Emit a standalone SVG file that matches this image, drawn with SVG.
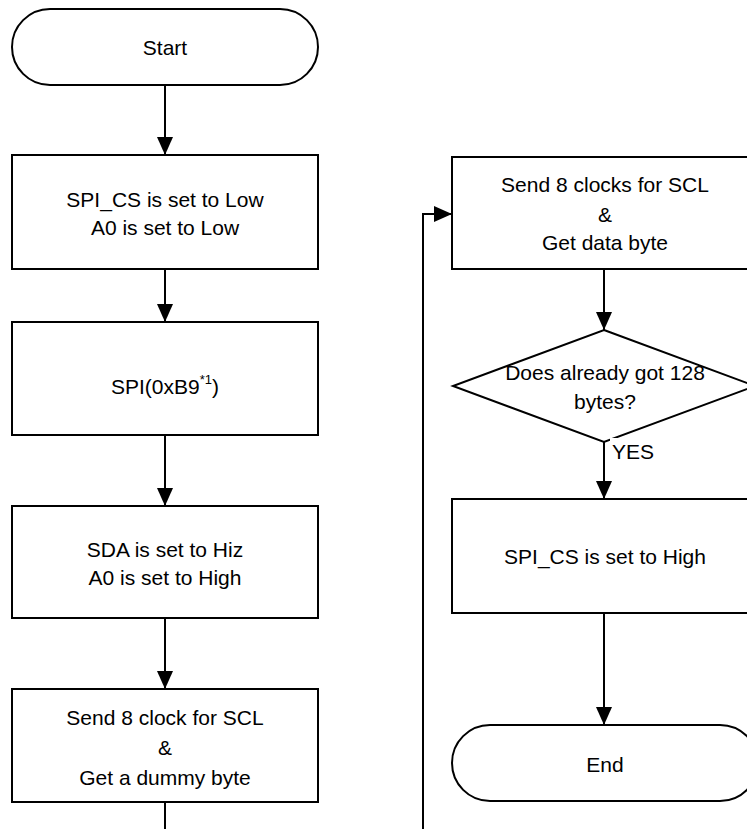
<svg xmlns="http://www.w3.org/2000/svg" width="747" height="829" viewBox="0 0 747 829">
<style>
.shape{fill:#fff;stroke:#000;stroke-width:2}
.conn{fill:none;stroke:#000;stroke-width:2}
text{font-family:"Liberation Sans",Arial,sans-serif;font-size:21px;fill:#000;text-anchor:middle}
.lbl{text-anchor:start}
</style>
<defs>
<marker id="arr" viewBox="0 0 18 16" refX="18" refY="8" markerWidth="18" markerHeight="16" markerUnits="userSpaceOnUse" orient="auto">
<path d="M0,0 L18,8 L0,16 z" fill="#000"/>
</marker>
</defs>
<rect width="747" height="829" fill="#fff"/>
<g id="connectors">
<line class="conn" x1="165" y1="85" x2="165" y2="155" marker-end="url(#arr)"/>
<line class="conn" x1="165" y1="269" x2="165" y2="322" marker-end="url(#arr)"/>
<line class="conn" x1="165" y1="435" x2="165" y2="506" marker-end="url(#arr)"/>
<line class="conn" x1="165" y1="618" x2="165" y2="689" marker-end="url(#arr)"/>
<line class="conn" x1="165" y1="802" x2="165" y2="830"/>
<polyline class="conn" points="423,830 423,214 452,214" marker-end="url(#arr)"/>
<line class="conn" x1="604" y1="269" x2="604" y2="330" marker-end="url(#arr)"/>
<line class="conn" x1="604" y1="442" x2="604" y2="499" marker-end="url(#arr)"/>
<line class="conn" x1="604" y1="613" x2="604" y2="725" marker-end="url(#arr)"/>
</g>
<g id="start">
<rect class="shape" x="12" y="9" width="306" height="76" rx="38" ry="38"/>
<text x="165" y="55">Start</text>
</g>
<g id="cs-low">
<rect class="shape" x="12" y="155" width="306" height="114"/>
<text x="165" y="207">SPI_CS is set to Low</text>
<text x="165" y="235">A0 is set to Low</text>
</g>
<g id="spi-b9">
<rect class="shape" x="12" y="322" width="306" height="113"/>
<text x="165" y="394">SPI(0xB9<tspan font-size="13" dy="-10">*1</tspan><tspan dy="10">)</tspan></text>
</g>
<g id="sda-hiz">
<rect class="shape" x="12" y="506" width="306" height="112"/>
<text x="165" y="557">SDA is set to Hiz</text>
<text x="165" y="585">A0 is set to High</text>
</g>
<g id="dummy">
<rect class="shape" x="12" y="689" width="306" height="113"/>
<text x="165" y="725">Send 8 clock for SCL</text>
<text x="165" y="755">&amp;</text>
<text x="165" y="785">Get a dummy byte</text>
</g>
<g id="data-byte">
<rect class="shape" x="452" y="157" width="306" height="112"/>
<text x="605" y="192">Send 8 clocks for SCL</text>
<text x="605" y="222">&amp;</text>
<text x="605" y="250">Get data byte</text>
</g>
<g id="decision">
<polygon class="shape" points="604,330 755,386 604,442 453,386"/>
<text x="605" y="380">Does already got 128</text>
<text x="605" y="409">bytes?</text>
</g>
<g id="yes-label">
<rect x="610" y="438" width="30" height="26" fill="#fff"/>
<text class="lbl" x="612" y="459">YES</text>
</g>
<g id="cs-high">
<rect class="shape" x="452" y="499" width="306" height="114"/>
<text x="605" y="564">SPI_CS is set to High</text>
</g>
<g id="end">
<rect class="shape" x="452" y="725" width="306" height="76" rx="38" ry="38"/>
<text x="605" y="772">End</text>
</g>
</svg>
